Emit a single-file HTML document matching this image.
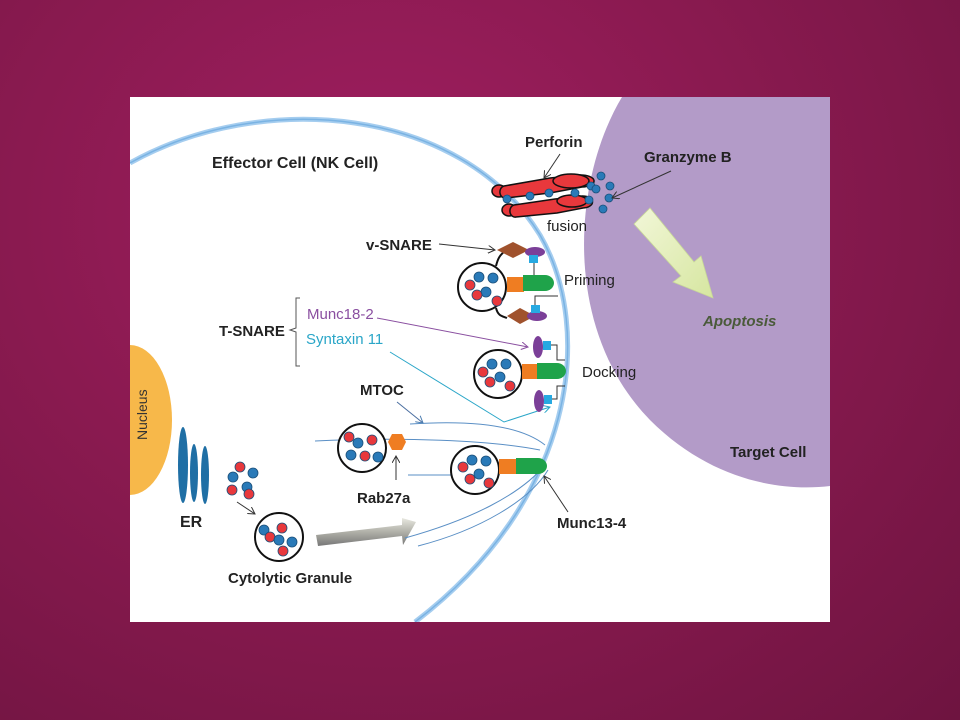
<!DOCTYPE html>
<html><head><meta charset="utf-8"><style>
html,body{margin:0;padding:0;width:960px;height:720px;overflow:hidden}
body{background:radial-gradient(ellipse at 40% 30%,#a01e60 0%,#8a1a50 45%,#6e1440 100%)}
svg{position:absolute;left:0;top:0}
text{font-family:"Liberation Sans",sans-serif}
</style></head><body>
<svg width="960" height="720" viewBox="0 0 960 720">
<defs>
<marker id="a" markerWidth="8" markerHeight="8" refX="7" refY="4" orient="auto"><path d="M0,0 L7,4 L0,8" fill="none" stroke="#333" stroke-width="1"/></marker>
<marker id="ap" markerWidth="8" markerHeight="8" refX="7" refY="4" orient="auto"><path d="M0,0 L7,4 L0,8" fill="none" stroke="#8a4fa0" stroke-width="1"/></marker>
<marker id="ac" markerWidth="8" markerHeight="8" refX="7" refY="4" orient="auto"><path d="M0,0 L7,4 L0,8" fill="none" stroke="#2aa6c8" stroke-width="1"/></marker>
<marker id="ab" markerWidth="8" markerHeight="8" refX="7" refY="4" orient="auto"><path d="M0,0 L7,4 L0,8" fill="none" stroke="#4a7cb0" stroke-width="1"/></marker>
<linearGradient id="gg" x1="0" y1="0" x2="0" y2="1"><stop offset="0" stop-color="#e8e8e0"/><stop offset="0.5" stop-color="#b0b0a8"/><stop offset="1" stop-color="#777"/></linearGradient>
<linearGradient id="yg" x1="0" y1="0" x2="1" y2="1"><stop offset="0" stop-color="#f2f7d8"/><stop offset="1" stop-color="#d6e6a0"/></linearGradient>
<clipPath id="cp"><rect x="130" y="97" width="700" height="525"/></clipPath>
</defs>
<rect x="130" y="97" width="700" height="525" fill="#fff"/>
<g clip-path="url(#cp)">
<path d="M622,97 C572,180 562,330 650,420 C710,480 780,492 830,486 L830,97 Z" fill="#b39bc8"/>
<path d="M130,163 C260,90 460,105 540,235 C595,330 575,500 415,622" fill="none" stroke="#a5cdef" stroke-width="5"/>
<path d="M130,163 C260,90 460,105 540,235 C595,330 575,500 415,622" fill="none" stroke="#7ab3e3" stroke-width="1.5"/>
<ellipse cx="130" cy="420" rx="42" ry="75" fill="#f7b84a"/>
</g>
<text x="0" y="0" transform="translate(147,440) rotate(-90)" font-size="14" fill="#333">Nucleus</text>
<ellipse cx="183" cy="465" rx="5" ry="38" fill="#1f6fa5"/>
<ellipse cx="194" cy="473" rx="4" ry="29" fill="#1f6fa5"/>
<ellipse cx="205" cy="475" rx="4" ry="29" fill="#1f6fa5"/>
<text x="180" y="527" font-size="16" font-weight="bold" fill="#222">ER</text>
<g stroke="#1a4f7a" stroke-width="0.8">
<circle cx="240" cy="467" r="5" fill="#e8383c"/><circle cx="233" cy="477" r="5" fill="#2a7ab8"/><circle cx="253" cy="473" r="5" fill="#2a7ab8"/>
<circle cx="232" cy="490" r="5" fill="#e8383c"/><circle cx="247" cy="487" r="5" fill="#2a7ab8"/><circle cx="249" cy="494" r="5" fill="#e8383c"/>
</g>
<line x1="237" y1="502" x2="255" y2="514" stroke="#333" marker-end="url(#a)"/>
<circle cx="279" cy="537" r="24" fill="#fff" stroke="#111" stroke-width="2"/>
<g stroke="#1a4f7a" stroke-width="0.8">
<circle cx="282" cy="528" r="5" fill="#e8383c"/><circle cx="264" cy="530" r="5" fill="#2a7ab8"/><circle cx="270" cy="537" r="5" fill="#e8383c"/>
<circle cx="279" cy="540" r="5" fill="#2a7ab8"/><circle cx="292" cy="542" r="5" fill="#2a7ab8"/><circle cx="283" cy="551" r="5" fill="#e8383c"/>
</g>
<text x="228" y="583" font-size="15" font-weight="bold" fill="#222">Cytolytic Granule</text>
<path d="M316,535 L402,525 L402,518 L416,522 L403,545 L402,536 L318,546 Z" fill="url(#gg)"/>
<g fill="none" stroke="#5a8fc5" stroke-width="1">
<path d="M410,424 C470,420 520,425 545,445"/>
<path d="M315,441 C400,437 490,440 540,450"/>
<path d="M408,475 L470,475"/>
<path d="M405,538 C470,520 520,495 545,465"/>
<path d="M418,546 C480,530 530,500 548,470"/>
</g>
<line x1="397" y1="402" x2="423" y2="423" stroke="#4a6ea0" marker-end="url(#ab)"/>
<text x="360" y="395" font-size="15" font-weight="bold" fill="#222">MTOC</text>
<circle cx="362" cy="448" r="24" fill="#fff" stroke="#111" stroke-width="2"/>
<g stroke="#1a4f7a" stroke-width="0.8">
<circle cx="349" cy="437" r="5" fill="#e8383c"/><circle cx="358" cy="443" r="5" fill="#2a7ab8"/><circle cx="372" cy="440" r="5" fill="#e8383c"/>
<circle cx="351" cy="455" r="5" fill="#2a7ab8"/><circle cx="365" cy="456" r="5" fill="#e8383c"/><circle cx="378" cy="457" r="5" fill="#2a7ab8"/>
</g>
<polygon points="388,442 392,434 402,434 406,442 402,450 392,450" fill="#ef7d22"/>
<line x1="396" y1="480" x2="396" y2="456" stroke="#333" marker-end="url(#a)"/>
<text x="357" y="503" font-size="15" font-weight="bold" fill="#222">Rab27a</text>
<circle cx="475" cy="470" r="24" fill="#fff" stroke="#111" stroke-width="2"/>
<g stroke="#1a4f7a" stroke-width="0.8">
<circle cx="472" cy="460" r="5" fill="#2a7ab8"/><circle cx="486" cy="461" r="5" fill="#2a7ab8"/><circle cx="463" cy="467" r="5" fill="#e8383c"/>
<circle cx="479" cy="474" r="5" fill="#2a7ab8"/><circle cx="470" cy="479" r="5" fill="#e8383c"/><circle cx="489" cy="483" r="5" fill="#e8383c"/>
</g>
<rect x="499" y="459" width="17" height="15" fill="#ef7d22"/>
<path d="M516,458 L538,458 A9,8 0 0 1 538,474 L516,474 Z" fill="#1fa34a"/>
<line x1="568" y1="512" x2="544" y2="476" stroke="#333" marker-end="url(#a)"/>
<text x="557" y="528" font-size="15" font-weight="bold" fill="#222">Munc13-4</text>
<text x="219" y="336" font-size="15" font-weight="bold" fill="#222">T-SNARE</text>
<path d="M300,298 L296,298 L296,328 L290,330 L296,332 L296,366 L300,366" fill="none" stroke="#555"/>
<text x="307" y="319" font-size="15" fill="#8a4fa0">Munc18-2</text>
<text x="306" y="344" font-size="15" fill="#2aa6c8">Syntaxin 11</text>
<line x1="377" y1="318" x2="528" y2="347" stroke="#8a4fa0" marker-end="url(#ap)"/>
<polyline points="390,352 504,422 550,407" fill="none" stroke="#2aa6c8" marker-end="url(#ac)"/>
<circle cx="498" cy="374" r="24" fill="#fff" stroke="#111" stroke-width="2"/>
<g stroke="#1a4f7a" stroke-width="0.8">
<circle cx="492" cy="364" r="5" fill="#2a7ab8"/><circle cx="506" cy="364" r="5" fill="#2a7ab8"/><circle cx="483" cy="372" r="5" fill="#e8383c"/>
<circle cx="500" cy="377" r="5" fill="#2a7ab8"/><circle cx="490" cy="382" r="5" fill="#e8383c"/><circle cx="510" cy="386" r="5" fill="#e8383c"/>
</g>
<rect x="522" y="364" width="17" height="15" fill="#ef7d22"/>
<path d="M537,363 L557,363 A9,8 0 0 1 557,379 L537,379 Z" fill="#1fa34a"/>
<ellipse cx="538" cy="347" rx="5" ry="11" fill="#7b3f98"/><rect x="543" y="341" width="8" height="9" fill="#27a9e1"/>
<ellipse cx="539" cy="401" rx="5" ry="11" fill="#7b3f98"/><rect x="544" y="395" width="8" height="9" fill="#27a9e1"/>
<polyline points="551,345 557,345 557,360 565,360" fill="none" stroke="#333"/>
<polyline points="552,399 557,399 557,386 565,386" fill="none" stroke="#333"/>
<text x="582" y="377" font-size="15" fill="#222">Docking</text>
<circle cx="482" cy="287" r="24" fill="#fff" stroke="#111" stroke-width="2"/>
<g stroke="#1a4f7a" stroke-width="0.8">
<circle cx="479" cy="277" r="5" fill="#2a7ab8"/><circle cx="493" cy="278" r="5" fill="#2a7ab8"/><circle cx="470" cy="285" r="5" fill="#e8383c"/>
<circle cx="486" cy="292" r="5" fill="#2a7ab8"/><circle cx="477" cy="295" r="5" fill="#e8383c"/><circle cx="497" cy="301" r="5" fill="#e8383c"/>
</g>
<path d="M496,266 C498,258 500,255 505,251" fill="none" stroke="#111" stroke-width="2"/>
<path d="M496,308 C498,316 502,316 507,318" fill="none" stroke="#111" stroke-width="2"/>
<rect x="507" y="277" width="17" height="15" fill="#ef7d22"/>
<path d="M523,275 L545,275 A9,8 0 0 1 545,291 L523,291 Z" fill="#1fa34a"/>
<polygon points="497,250 513,242 529,250 513,258" fill="#a0522d"/>
<polygon points="507,316 520,308 535,316 520,324" fill="#a0522d"/>
<ellipse cx="535" cy="252" rx="10" ry="5" fill="#7b3f98"/><rect x="529" y="255" width="9" height="8" fill="#27a9e1"/>
<line x1="534" y1="263" x2="534" y2="275" stroke="#333"/>
<ellipse cx="537" cy="316" rx="10" ry="5" fill="#7b3f98"/><rect x="531" y="305" width="9" height="8" fill="#27a9e1"/>
<polyline points="535,305 535,296 558,296" fill="none" stroke="#333"/>
<text x="564" y="285" font-size="15" fill="#222">Priming</text>
<text x="366" y="250" font-size="15" font-weight="bold" fill="#222">v-SNARE</text>
<line x1="439" y1="244" x2="495" y2="250" stroke="#333" marker-end="url(#a)"/>
<g stroke="#111" stroke-width="1.5" fill="#e8383c">
<ellipse cx="499" cy="191" rx="7" ry="6"/>
<path d="M504,186 L550,178 L580,175 A13,6 0 0 1 582,187 L550,193 L506,198 A5,6 0 0 1 504,186 Z"/>
<ellipse cx="571" cy="181" rx="18" ry="7"/>
<ellipse cx="509" cy="210" rx="7" ry="6"/>
<path d="M514,205 L555,199 L582,196 A10,6 0 0 1 583,208 L557,213 L516,217 A5,6 0 0 1 514,205 Z"/>
<ellipse cx="572" cy="201" rx="15" ry="6"/>
</g>
<g stroke="#1a4f7a" stroke-width="0.8" fill="#2a7ab8">
<circle cx="507" cy="199" r="4"/><circle cx="530" cy="196" r="4"/><circle cx="549" cy="193" r="4"/><circle cx="575" cy="193" r="4"/>
<circle cx="591" cy="186" r="4"/><circle cx="601" cy="176" r="4"/><circle cx="596" cy="189" r="4"/><circle cx="609" cy="198" r="4"/>
<circle cx="589" cy="200" r="4"/><circle cx="603" cy="209" r="4"/><circle cx="610" cy="186" r="4"/>
</g>
<text x="525" y="147" font-size="15" font-weight="bold" fill="#222">Perforin</text>
<line x1="560" y1="154" x2="544" y2="178" stroke="#333" marker-end="url(#a)"/>
<text x="547" y="231" font-size="15" fill="#222">fusion</text>
<text x="644" y="162" font-size="15" font-weight="bold" fill="#222">Granzyme B</text>
<line x1="671" y1="171" x2="612" y2="198" stroke="#333" marker-end="url(#a)"/>
<path d="M634,224 L650,208 L694,262 L701,256 L713,298 L673,282 L681,276 Z" fill="url(#yg)" stroke="#c8d898" stroke-width="0.8"/>
<text x="703" y="326" font-size="15" font-weight="bold" font-style="italic" fill="#4a5a3a">Apoptosis</text>
<text x="730" y="457" font-size="15" font-weight="bold" fill="#222">Target Cell</text>
<text x="212" y="168" font-size="16" font-weight="bold" fill="#222">Effector Cell (NK Cell)</text>
</svg>
</body></html>
